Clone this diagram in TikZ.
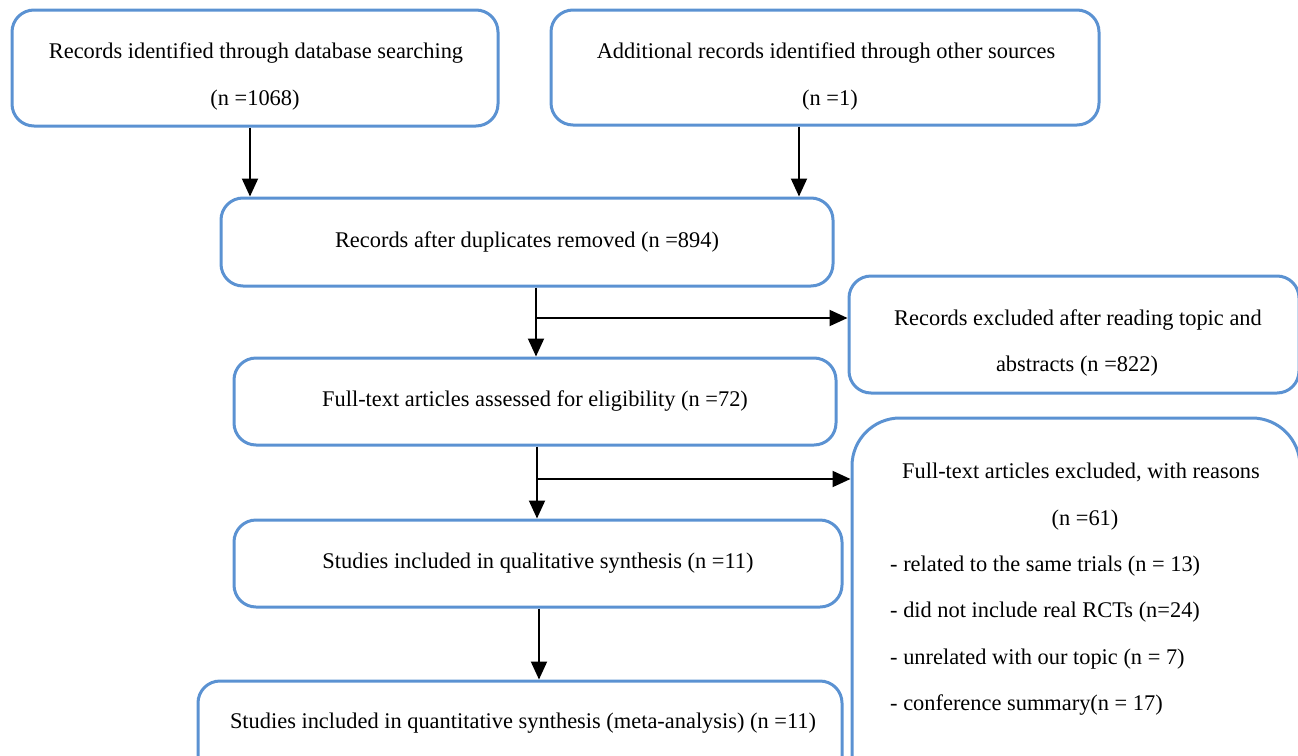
\documentclass[tikz,border=0pt]{standalone}
\usepackage{fontspec}
\setmainfont{Liberation Serif}
\usetikzlibrary{arrows.meta}
\definecolor{boxblue}{RGB}{91,146,210}
\begin{document}
\begin{tikzpicture}[x=1pt,y=-1pt,
  box/.style={draw=boxblue,line width=3pt,rounded corners=22pt,inner sep=0pt,font=\fontsize{22.4}{26}\selectfont},
  txt/.style={anchor=base,font=\fontsize{22.4}{26}\selectfont,inner sep=0pt},
  ltxt/.style={txt,anchor=base west},
  arr/.style={line width=2pt,-{Triangle[length=18pt,width=16pt]}}]
\useasboundingbox (0,0) rectangle (1298,755);
\clip (0,0) rectangle (1298,755);
% boxes
\node[box,minimum width=486pt,minimum height=116pt] (b1) at (255,68) {};
\node[txt] (t1a) at (256,58) {Records identified through database searching};
\node[txt] (t1b) at (255,105) {(n =1068)};
\node[box,minimum width=548pt,minimum height=115pt] (b2) at (825,67.5) {};
\node[txt] (t2a) at (826,58) {Additional records identified through other sources};
\node[txt] (t2b) at (830,105) {(n =1)};
\node[box,minimum width=612pt,minimum height=88pt] (b3) at (527,242) {Records after duplicates removed (n =894)};
\node[box,minimum width=450pt,minimum height=117pt] (b4) at (1074,334.5) {};
\node[txt] (t4a) at (1078,325) {Records excluded after reading topic and};
\node[txt] (t4b) at (1077,371) {abstracts (n =822)};
\node[box,minimum width=602pt,minimum height=87pt] (b5) at (535,401.5) {Full-text articles assessed for eligibility (n =72)};
\node[box,rounded corners=48pt,minimum width=448pt,minimum height=382pt] (b6) at (1076,609) {};
\node[txt] (t6a) at (1081,478) {Full-text articles excluded, with reasons};
\node[txt] (t6b) at (1085,525) {(n =61)};
\node[ltxt] (t6c) at (890,571) {- related to the same trials (n = 13)};
\node[ltxt] (t6d) at (890,617) {- did not include real RCTs (n=24)};
\node[ltxt] (t6e) at (890,664) {- unrelated with our topic (n = 7)};
\node[ltxt] (t6f) at (890,710) {- conference summary(n = 17)};
\node[box,minimum width=608pt,minimum height=87pt] (b7) at (538,563.5) {Studies included in qualitative synthesis (n =11)};
\node[box,minimum width=644pt,minimum height=119pt] (b8) at (520,740.5) {};
\node[txt] (t8) at (523,728) {Studies included in quantitative synthesis (meta-analysis) (n =11)};
% connectors
\coordinate (x1) at (250,0);
\coordinate (x2) at (799,0);
\coordinate (x3) at (536,0);
\coordinate (x4) at (537,0);
\coordinate (x5) at (539,0);
\coordinate (j1) at (536,318);
\coordinate (j2) at (537,479);
\draw[arr] (x1 |- b1.south) -- (x1 |- b3.north);
\draw[arr] (x2 |- b2.south) -- (x2 |- b3.north);
\draw[arr] (x3 |- b3.south) -- (x3 |- b5.north);
\draw[arr] (j1) -- (j1 -| b4.west);
\draw[arr] (x4 |- b5.south) -- (x4 |- b7.north);
\draw[arr] (j2) -- (j2 -| b6.west);
\draw[arr] (x5 |- b7.south) -- (x5 |- b8.north);
\end{tikzpicture}
\end{document}
